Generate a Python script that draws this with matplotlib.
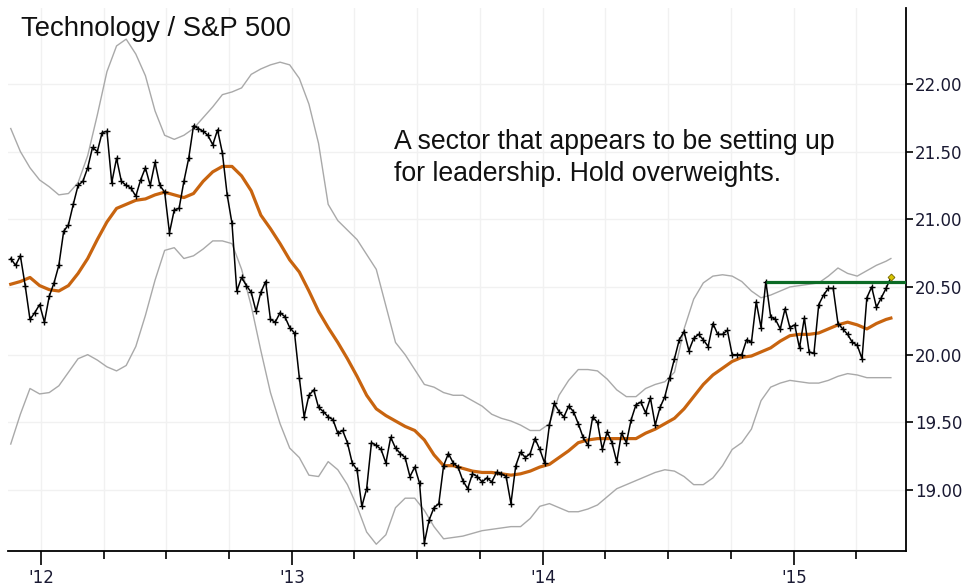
import pandas as pd
import matplotlib
matplotlib.use('Agg')
import matplotlib.pyplot as plt
import matplotlib.dates as mdates

# Weekly ratio, Technology / S&P 500
start_date = '2011-11-18'
ratio = [
    20.71, 20.66, 20.73, 20.51, 20.26, 20.31, 20.37, 20.24, 20.43, 20.53,
    20.66, 20.91, 20.96, 21.11, 21.25, 21.28, 21.38, 21.53, 21.50, 21.64,
    21.65, 21.27, 21.45, 21.28, 21.25, 21.23, 21.17, 21.29, 21.38, 21.25,
    21.42, 21.25, 21.20, 20.90, 21.07, 21.08, 21.28, 21.45, 21.69, 21.67,
    21.65, 21.62, 21.55, 21.66, 21.49, 21.18, 20.97, 20.47, 20.57, 20.51,
    20.46, 20.32, 20.46, 20.54, 20.26, 20.24, 20.31, 20.28, 20.20, 20.16,
    19.83, 19.54, 19.70, 19.74, 19.61, 19.58, 19.54, 19.52, 19.42, 19.44,
    19.35, 19.20, 19.15, 18.88, 19.01, 19.35, 19.33, 19.30, 19.20, 19.39,
    19.31, 19.27, 19.24, 19.10, 19.17, 19.05, 18.61, 18.78, 18.87, 18.90,
    19.18, 19.27, 19.20, 19.17, 19.07, 19.01, 19.12, 19.10, 19.06, 19.09,
    19.06, 19.13, 19.12, 19.10, 18.90, 19.18, 19.28, 19.24, 19.27, 19.38,
    19.30, 19.20, 19.48, 19.64, 19.58, 19.54, 19.62, 19.58, 19.49, 19.39,
    19.33, 19.54, 19.50, 19.30, 19.43, 19.35, 19.21, 19.42, 19.35, 19.52,
    19.63, 19.65, 19.57, 19.68, 19.48, 19.61, 19.69, 19.83, 19.97, 20.11,
    20.17, 20.03, 20.12, 20.15, 20.11, 20.06, 20.23, 20.15, 20.15, 20.18,
    20.00, 20.00, 20.00, 20.11, 20.09, 20.39, 20.20, 20.54, 20.28, 20.26,
    20.19, 20.34, 20.20, 20.22, 20.05, 20.27, 20.02, 20.01, 20.37, 20.44,
    20.49, 20.49, 20.23, 20.19, 20.15, 20.09, 20.07, 19.97, 20.42, 20.50,
    20.35, 20.42, 20.49, 20.57,
]

# moving average and bands, read every 2nd week (plus the last week)
moving_avg = [
    20.52, 20.54, 20.57, 20.51, 20.48, 20.47, 20.51, 20.60, 20.71, 20.85,
    20.98, 21.08, 21.11, 21.14, 21.15, 21.18, 21.20, 21.18, 21.16, 21.19,
    21.28, 21.35, 21.39, 21.39, 21.32, 21.21, 21.03, 20.93, 20.82, 20.70,
    20.61, 20.47, 20.32, 20.20, 20.09, 19.97, 19.84, 19.70, 19.60, 19.55,
    19.51, 19.47, 19.44, 19.37, 19.26, 19.18, 19.18, 19.16, 19.14, 19.13,
    19.13, 19.12, 19.11, 19.12, 19.14, 19.17, 19.19, 19.24, 19.29, 19.35,
    19.37, 19.38, 19.38, 19.38, 19.38, 19.38, 19.42, 19.45, 19.49, 19.53,
    19.60, 19.69, 19.78, 19.85, 19.90, 19.95, 19.98, 19.99, 20.02, 20.05,
    20.10, 20.14, 20.15, 20.15, 20.16, 20.19, 20.22, 20.24, 20.22, 20.19,
    20.23, 20.26, 20.27,
]
upper_band = [
    21.67, 21.50, 21.38, 21.29, 21.24, 21.18, 21.19, 21.27, 21.47, 21.77,
    22.09, 22.28, 22.33, 22.22, 22.06, 21.80, 21.62, 21.59, 21.62, 21.67,
    21.75, 21.83, 21.92, 21.94, 21.97, 22.07, 22.11, 22.14, 22.16, 22.14,
    22.04, 21.85, 21.56, 21.11, 20.99, 20.92, 20.85, 20.74, 20.63, 20.36,
    20.09, 20.00, 19.89, 19.78, 19.76, 19.72, 19.70, 19.70, 19.66, 19.62,
    19.56, 19.53, 19.51, 19.48, 19.44, 19.44, 19.49, 19.70, 19.81, 19.89,
    19.89, 19.88, 19.82, 19.74, 19.69, 19.69, 19.75, 19.78, 19.80, 19.87,
    20.19, 20.41, 20.53, 20.58, 20.59, 20.58, 20.54, 20.47, 20.42, 20.44,
    20.47, 20.50, 20.51, 20.52, 20.53, 20.58, 20.64, 20.60, 20.58, 20.62,
    20.66, 20.69, 20.71,
]
lower_band = [
    19.34, 19.56, 19.75, 19.71, 19.72, 19.77, 19.87, 19.97, 20.00, 19.96,
    19.91, 19.88, 19.92, 20.06, 20.29, 20.55, 20.77, 20.79, 20.71, 20.73,
    20.78, 20.84, 20.84, 20.82, 20.63, 20.36, 20.03, 19.72, 19.49, 19.31,
    19.24, 19.11, 19.10, 19.21, 19.15, 19.04, 18.88, 18.69, 18.60, 18.67,
    18.87, 18.94, 18.94, 18.85, 18.73, 18.64, 18.65, 18.66, 18.68, 18.70,
    18.71, 18.72, 18.73, 18.73, 18.79, 18.88, 18.90, 18.87, 18.84, 18.84,
    18.86, 18.89, 18.95, 19.01, 19.04, 19.07, 19.10, 19.13, 19.15, 19.14,
    19.10, 19.04, 19.04, 19.09, 19.18, 19.30, 19.35, 19.45, 19.66, 19.76,
    19.79, 19.81, 19.80, 19.79, 19.79, 19.81, 19.84, 19.86, 19.85, 19.83,
    19.83, 19.83, 19.83,
]

# breakout level drawn from the Dec 2014 high
resistance = 20.54
resistance_week = 157

title = 'Technology / S&P 500'
note_lines = ['A sector that appears to be setting up',
              'for leadership. Hold overweights.']

dates = pd.date_range(start_date, periods=len(ratio), freq='7D')
band_dates = list(dates[::2]) + [dates[-1]]

x_min = pd.Timestamp('2011-11-14')
x_max = pd.Timestamp('2015-06-13')

tick_color = '#1a1a33'

fig = plt.figure(figsize=(9.64, 5.87), dpi=100)
ax = fig.add_axes([8 / 964, 1 - 551 / 587, 898 / 964, 543 / 587])

# bands, average, ratio
ax.plot(band_dates, upper_band, color='#a9a9a9', lw=1.0, zorder=2)
ax.plot(band_dates, lower_band, color='#a9a9a9', lw=1.0, zorder=2)
ax.plot(band_dates, moving_avg, color='#c8640f', lw=2.3, zorder=3)
ax.plot(dates, ratio, color='black', lw=1.1, marker='+', ms=4.5, mew=1.0, zorder=4)
ax.plot([dates[resistance_week], x_max], [resistance, resistance],
        color='#0b6b25', lw=2.3, zorder=5, solid_capstyle='butt')
ax.plot(dates[-1], ratio[-1], marker='D', ms=3.5, color='#d8c400',
        mec='#7a6a00', mew=0.6, zorder=6)

ax.set_xlim(x_min, x_max)
ax.set_ylim(18.55, 22.56)

# axes styling
ax.spines['left'].set_visible(False)
ax.spines['top'].set_visible(False)
ax.spines['right'].set_linewidth(1.3)
ax.spines['bottom'].set_linewidth(1.3)

ax.yaxis.tick_right()
ax.set_yticks([19.0, 19.5, 20.0, 20.5, 21.0, 21.5, 22.0])
ax.yaxis.set_major_formatter(plt.FuncFormatter(lambda v, p: f'{v:.2f}'))
ax.tick_params(axis='y', length=5, width=1.2, pad=1.5, labelsize=12,
               labelcolor=tick_color)

ax.xaxis.set_major_locator(mdates.YearLocator())
ax.xaxis.set_major_formatter(mdates.DateFormatter("'%y"))
ax.xaxis.set_minor_locator(mdates.MonthLocator(bymonth=(4, 7, 10)))
ax.tick_params(axis='x', which='major', length=10, width=1.2, pad=3,
               labelsize=12, labelcolor=tick_color)
ax.tick_params(axis='x', which='minor', length=6, width=1.2)

ax.grid(axis='x', which='both', color='#f1f1f1', lw=1.0, zorder=0)
ax.grid(axis='y', which='major', color='#f1f1f1', lw=1.0, zorder=0)

# title and comment
fig.text(21 / 964, 1 - 35.5 / 587, title, fontsize=19.8,
         family='Liberation Sans', va='baseline', color='#111111')
fig.text(394 / 964, 1 - 149 / 587, note_lines[0], fontsize=19.2,
         family='Liberation Sans', va='baseline', color='#111111')
fig.text(394 / 964, 1 - 181 / 587, note_lines[1], fontsize=19.2,
         family='Liberation Sans', va='baseline', color='#111111')

fig.savefig('out.png', dpi=100)
